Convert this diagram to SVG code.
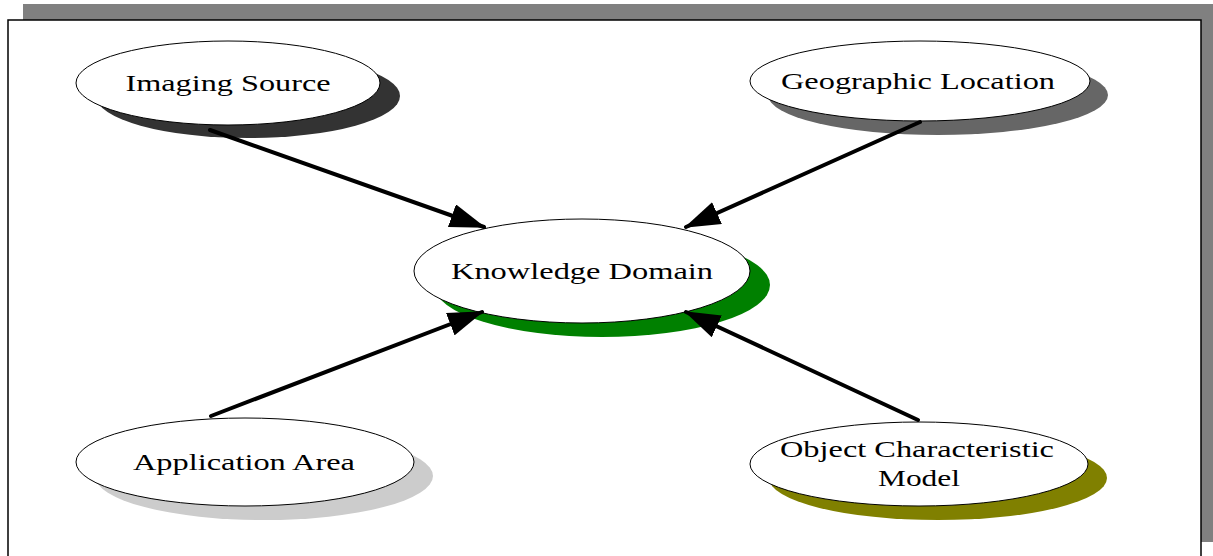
<svg xmlns="http://www.w3.org/2000/svg" width="1213" height="556" viewBox="0 0 1213 556">
<style>
.node{fill:#fff;stroke:#000;stroke-width:1}
.lbl{font-family:"Liberation Serif","Times New Roman",serif;font-size:24px;fill:#000;text-anchor:middle}
.conn{stroke:#000;stroke-width:4;fill:none;stroke-linecap:round}
</style>
<defs>
<marker id="ah" markerWidth="9" markerHeight="6" refX="8.5" refY="3" orient="auto" markerUnits="strokeWidth">
<path d="M0,0 L9,3 L0,6 Z" fill="#000"/>
</marker>
</defs>
<g id="frame">
<rect x="23" y="4" width="1193" height="538" fill="#808080"/>
<rect x="8" y="20" width="1193" height="540" fill="#fff" stroke="#000" stroke-width="1.5"/>
</g>
<g id="imaging-source">
<ellipse cx="248" cy="96" rx="152" ry="42" fill="#333"/>
<ellipse class="node" cx="228" cy="83" rx="152" ry="42"/>
<text class="lbl" x="228" y="91" textLength="205" lengthAdjust="spacingAndGlyphs">Imaging Source</text>
</g>
<g id="geographic-location">
<ellipse cx="938" cy="95" rx="170" ry="40" fill="#666"/>
<ellipse class="node" cx="920" cy="81" rx="170" ry="40"/>
<text class="lbl" x="918" y="89" textLength="274" lengthAdjust="spacingAndGlyphs">Geographic Location</text>
</g>
<g id="knowledge-domain">
<ellipse cx="602" cy="285" rx="168" ry="52" fill="#008000"/>
<ellipse class="node" cx="582" cy="271" rx="168" ry="52"/>
<text class="lbl" x="582" y="279" textLength="262" lengthAdjust="spacingAndGlyphs">Knowledge Domain</text>
</g>
<g id="application-area">
<ellipse cx="264" cy="476" rx="169" ry="44" fill="#ccc"/>
<ellipse class="node" cx="245" cy="462" rx="169" ry="44"/>
<text class="lbl" x="244" y="470" textLength="222" lengthAdjust="spacingAndGlyphs">Application Area</text>
</g>
<g id="object-characteristic-model">
<ellipse cx="938" cy="478" rx="169" ry="42" fill="#808000"/>
<ellipse class="node" cx="919" cy="464" rx="169" ry="42"/>
<text class="lbl" x="917" y="457" textLength="274" lengthAdjust="spacingAndGlyphs">Object Characteristic</text>
<text class="lbl" x="919" y="486" textLength="82" lengthAdjust="spacingAndGlyphs">Model</text>
</g>
<g id="connectors">
<line class="conn" x1="210" y1="130" x2="484" y2="227" marker-end="url(#ah)"/>
<line class="conn" x1="920" y1="122" x2="686" y2="227" marker-end="url(#ah)"/>
<line class="conn" x1="211" y1="416" x2="482" y2="312" marker-end="url(#ah)"/>
<line class="conn" x1="918" y1="420" x2="686" y2="312" marker-end="url(#ah)"/>
</g>
</svg>
